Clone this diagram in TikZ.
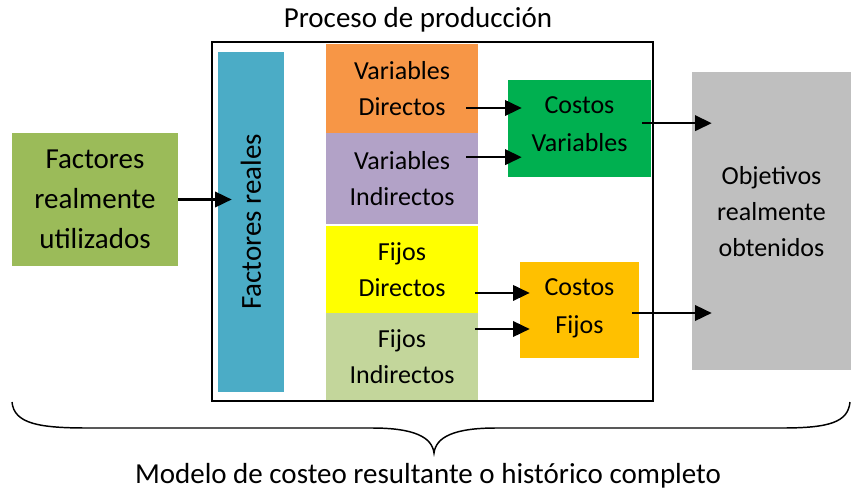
\documentclass[tikz,border=0pt]{standalone}
\usepackage{fontspec}
\setmainfont{Carlito}
\usepackage{graphicx}
\usetikzlibrary{arrows.meta}
\definecolor{olivo}{HTML}{9BBB59}
\definecolor{azul}{HTML}{4BACC6}
\definecolor{naranja}{HTML}{F79646}
\definecolor{lila}{HTML}{B2A2C7}
\definecolor{amarillo}{HTML}{FFFF00}
\definecolor{verdeclaro}{HTML}{C3D69B}
\definecolor{verde}{HTML}{00B050}
\definecolor{oro}{HTML}{FFC000}
\definecolor{gris}{HTML}{BFBFBF}

\begin{document}
\begin{tikzpicture}[x=0.75pt,y=-0.75pt,
    caja/.style={inner sep=0pt,align=center,font=\fontsize{19.5}{27}\selectfont},
    grande/.style={font=\fontsize{21.75}{30}\selectfont},
    flecha/.style={line width=1.9pt,-{Triangle[length=12.5pt,width=11.5pt]}}]
    \useasboundingbox (0,0) rectangle (851,494);

    % cajas
    \node[caja,grande,fill=olivo,minimum width=124.5pt,minimum height=99.75pt] (util) at (95,199.5) {Factores\\realmente\\utilizados};
    \node[caja,grande,fill=azul,minimum width=49.5pt,minimum height=255pt] (reales) at (251,222) {\rotatebox{90}{Factores reales}};

    \node[caja,fill=naranja,minimum width=114pt,minimum height=66.75pt] (vd) at (402,88.5) {Variables\\Directos};
    \node[caja,fill=lila,minimum width=114pt,minimum height=68.25pt] (vi) at (402,178.5) {Variables\\Indirectos};
    \node[caja,fill=amarillo,minimum width=114pt,minimum height=65.25pt] (fd) at (402,269.5) {Fijos\\Directos};
    \node[caja,fill=verdeclaro,minimum width=114pt,minimum height=66pt] (fi) at (402,357) {Fijos\\Indirectos};

    \node[caja,fill=verde,minimum width=107.25pt,minimum height=72.75pt] (cv) at (579.5,128.5) {Costos\\[1.5pt]Variables\\[-21pt]\mbox{}};
    \node[caja,fill=oro,minimum width=89.25pt,minimum height=72pt] (cf) at (579.5,310) {Costos\\[1.5pt]Fijos\\[-21pt]\mbox{}};
    \node[caja,fill=gris,minimum width=119.25pt,minimum height=223.5pt] (obj) at (771.5,221) {Objetivos\\realmente\\obtenidos\\[-12pt]\mbox{}};

    \node[draw,line width=1.5pt,inner sep=0pt,minimum width=330.75pt,minimum height=269.25pt] (proceso) at (432.5,221.5) {};
    \node[grande] (titulo) at (418,20) {Proceso de producción};

    % flechas
    \draw[flecha] (util.east) -- ([xshift=10.5pt]reales.west |- util.east);
    \draw[flecha] ([xshift=-9pt,yshift=-14.6pt]vd.east) -- ([xshift=10.5pt,yshift=-14.6pt]cv.west |- vd.east);
    \draw[flecha] ([xshift=-9pt,yshift=16pt]vi.east) -- ([xshift=10.5pt,yshift=16pt]cv.west |- vi.east);
    \draw[flecha] ([xshift=-2.25pt,yshift=-17.6pt]fd.east) -- ([xshift=7.5pt,yshift=-17.6pt]cf.west |- fd.east);
    \draw[flecha] ([xshift=-2.25pt,yshift=21pt]fi.east) -- ([xshift=7.5pt,yshift=21pt]cf.west |- fi.east);
    \draw[flecha] ([xshift=-6.75pt,yshift=4pt]cv.east) -- ([xshift=15pt,yshift=4pt]obj.west |- cv.east);
    \draw[flecha] ([xshift=-5.25pt,yshift=-2.25pt]cf.east) -- ([xshift=15pt,yshift=-2.25pt]obj.west |- cf.east);

    % llave
    \draw[line width=1.1pt] (12,402) .. controls (14,424) and (40,428) .. (88,428) -- (372,428)
        .. controls (414,428) and (432,437) .. (434,453)
        .. controls (436,437) and (454,428) .. (496,428) -- (782,428)
        .. controls (830,428) and (848,422) .. (850,402);
    \node[grande] (modelo) at (428,476) {Modelo de costeo resultante o histórico completo};
\end{tikzpicture}
\end{document}
